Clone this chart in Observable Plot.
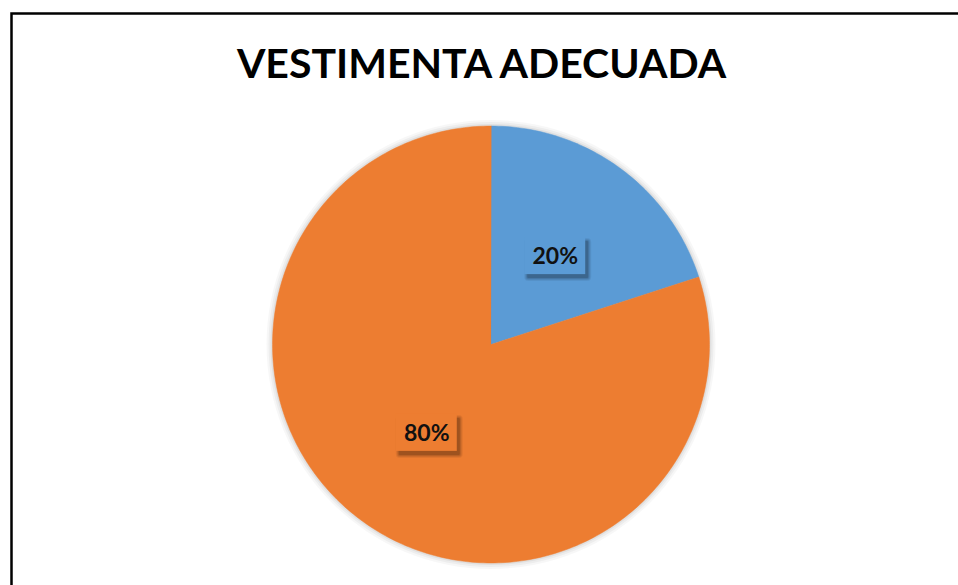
<!DOCTYPE html>
<html>
<head>
<meta charset="utf-8">
<script src="https://cdn.jsdelivr.net/npm/d3@7"></script>
<script src="https://cdn.jsdelivr.net/npm/@observablehq/plot@0.6"></script>
<style>
  html, body { margin: 0; padding: 0; background: #fff; }
  svg { display: block; }
</style>
</head>
<body>
<div id="chart"></div>
<script>
// ---- data ----
const chartTitle = "VESTIMENTA ADECUADA";
const categories = ["Adecuada", "No adecuada"];
const values = [20, 80];
const sliceColors = ["#5B9BD5", "#ED7D31"];

// ---- layout ----
const W = 958, H = 585;
const cx = 490.5, cy = 344, R = 218.5;

const total = d3.sum(values);
const arcs = d3.pie().sort(null).value(d => d.value)(
  categories.map((c, i) => ({category: c, value: values[i]}))
);

// polygon outline for each slice (angle clockwise from 12 o'clock)
const slicePts = [];
arcs.forEach(a => {
  const cat = a.data.category;
  slicePts.push({category: cat, x: cx, y: cy});
  const n = Math.max(2, Math.ceil((a.endAngle - a.startAngle) / (Math.PI / 180)));
  for (let k = 0; k <= n; k++) {
    const t = a.startAngle + (a.endAngle - a.startAngle) * k / n;
    slicePts.push({category: cat, x: cx + R * Math.sin(t), y: cy - R * Math.cos(t)});
  }
});

const labels = arcs.map(a => {
  const m = (a.startAngle + a.endAngle) / 2;
  return {
    category: a.data.category,
    text: Math.round(a.data.value / total * 100) + "%",
    x: cx + 0.5 * R * Math.sin(m),
    y: cy - 0.5 * R * Math.cos(m)
  };
});

// soft shadow layers for the label boxes (offset, fading)
const shadowLayers = [
  {grow: 3, op: 0.06}, {grow: 2, op: 0.08}, {grow: 1, op: 0.10}, {grow: 0, op: 0.14}
];
const shadowMarks = shadowLayers.map(s =>
  Plot.rect(labels, {
    x1: d => d.x - 30.5 + 3 - s.grow, x2: d => d.x + 30.5 + 3 + s.grow,
    y1: d => d.y - 18.5 + 4 - s.grow, y2: d => d.y + 18.5 + 4 + s.grow,
    fill: "#000", fillOpacity: s.op, rx: s.grow + 1
  })
);

// soft halo around the pie
const haloLayers = [{r: 6, op: 0.03}, {r: 4, op: 0.04}, {r: 2, op: 0.05}];

const plot = Plot.plot({
  width: W,
  height: H,
  margin: 0,
  x: {domain: [0, W], range: [0, W], axis: null},
  y: {domain: [0, H], range: [0, H], axis: null},
  color: {domain: categories, range: sliceColors},
  style: {background: "#fff", overflow: "visible"},
  marks: [
    ...haloLayers.map(h => Plot.dot([{x: cx, y: cy}], {
      x: "x", y: "y", r: R + h.r, fill: "#000", fillOpacity: h.op, stroke: "none"
    })),
    Plot.line(slicePts, {
      x: "x", y: "y", z: "category", stroke: "category", fill: "category",
      curve: "linear-closed", strokeWidth: 0.5
    }),
    ...shadowMarks,
    Plot.rect(labels, {
      x1: d => d.x - 30.5, x2: d => d.x + 30.5,
      y1: d => d.y - 18.5, y2: d => d.y + 18.5,
      fill: "category"
    }),
    Plot.text(labels, {
      x: "x", y: "y", text: "text",
      fontSize: 23, fontWeight: "bold", fill: "#111",
      fontFamily: "Lato, 'Open Sans', sans-serif",
      dy: 1
    }),
    Plot.text([chartTitle], {
      x: () => 481, y: () => 64, text: d => d,
      fontSize: 41, fontWeight: "bold", fill: "#000",
      fontFamily: "Lato, 'Open Sans', sans-serif",
      ariaLabel: "chart-title"
    }),
    Plot.frame({
      stroke: "#000", strokeWidth: 2.5,
      insetLeft: 11, insetTop: 13, insetRight: -5, insetBottom: -5
    })
  ]
});

const svg = d3.select(plot);
svg.selectAll('g[aria-label="chart-title"] text')
  .attr("textLength", 478).attr("lengthAdjust", "spacingAndGlyphs");

document.getElementById("chart").appendChild(plot);
</script>
</body>
</html>
